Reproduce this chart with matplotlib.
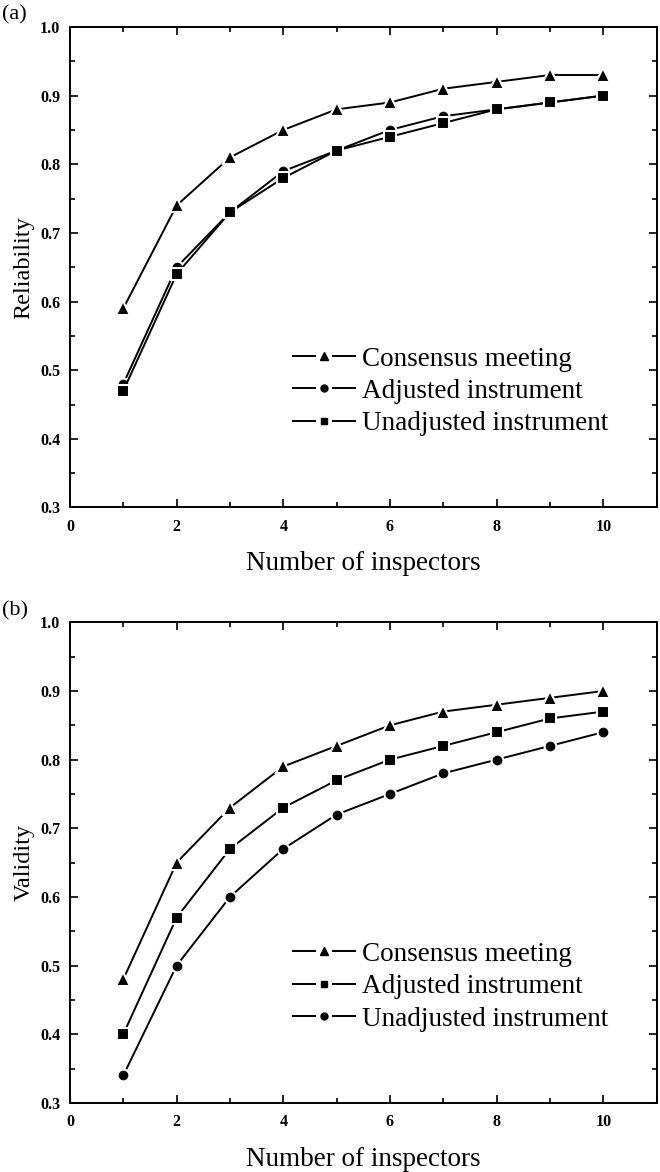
import numpy as np
import matplotlib.pyplot as plt
from matplotlib.ticker import MultipleLocator
from matplotlib.legend_handler import HandlerBase
from matplotlib.lines import Line2D

plt.rcParams['font.family'] = ['Liberation Serif', 'DejaVu Serif']

# === Daten ===
inspectors = [1, 2, 3, 4, 5, 6, 7, 8, 9, 10]

# (a) Reliability
rel_consensus = [0.59, 0.74, 0.81, 0.85, 0.88, 0.89, 0.91, 0.92, 0.93, 0.93]
rel_adjusted = [0.48, 0.65, 0.73, 0.79, 0.82, 0.85, 0.87, 0.88, 0.89, 0.90]
rel_unadjusted = [0.47, 0.64, 0.73, 0.78, 0.82, 0.84, 0.86, 0.88, 0.89, 0.90]

# (b) Validity
val_consensus = [0.48, 0.65, 0.73, 0.79, 0.82, 0.85, 0.87, 0.88, 0.89, 0.90]
val_adjusted = [0.40, 0.57, 0.67, 0.73, 0.77, 0.80, 0.82, 0.84, 0.86, 0.87]
val_unadjusted = [0.34, 0.50, 0.60, 0.67, 0.72, 0.75, 0.78, 0.80, 0.82, 0.84]

x_ticks = [0, 2, 4, 6, 8, 10]
y_ticks = [0.3, 0.4, 0.5, 0.6, 0.7, 0.8, 0.9, 1.0]

MARKER_SIZE = {"^": 10.5, "o": 8.5, "s": 8}


# Legend-Symbol im Origin-Stil: "—▲—" mit Lücken
class GapHandler(HandlerBase):
    def create_artists(self, legend, orig_handle, xdescent, ydescent,
                       width, height, fontsize, trans):
        y = height / 2 - ydescent
        x0 = -xdescent
        x1 = x0 + width
        mid = (x0 + x1) / 2
        gap = width * 0.14
        l1 = Line2D([x0, mid - gap], [y, y], color="black", linewidth=1.4)
        l2 = Line2D([mid + gap, x1], [y, y], color="black", linewidth=1.4)
        m = Line2D([mid], [y], marker=orig_handle.get_marker(), color="black",
                   markersize=6 if orig_handle.get_marker() == "^" else 5,
                   linestyle="none")
        for a in (l1, l2, m):
            a.set_transform(trans)
        return [l1, l2, m]


fig = plt.figure(figsize=(6.6, 11.72), dpi=100)
ax_a = fig.add_axes([0.106, 0.567, 0.889, 0.410])
ax_b = fig.add_axes([0.106, 0.059, 0.889, 0.410])


def draw_series(ax, y, marker, label):
    ax.plot(inspectors, y, marker=marker, label=label, color="black",
            linewidth=1.4, markersize=MARKER_SIZE[marker],
            markeredgecolor="white", markeredgewidth=1.5)


def setup_axis(ax, ylabel, tag):
    ax.set_xlim(0, 11)
    ax.set_ylim(0.3, 1.0)
    ax.set_xticks(x_ticks)
    ax.set_yticks(y_ticks)
    ax.set_yticklabels([f"{v:.1f}" for v in y_ticks])
    ax.xaxis.set_minor_locator(MultipleLocator(1))
    ax.yaxis.set_minor_locator(MultipleLocator(0.05))
    ax.tick_params(which="both", direction="in", top=True, right=True,
                   labelsize=11.5, width=1.2)
    ax.tick_params(axis="x", which="major", pad=8)
    ax.tick_params(axis="y", which="major", pad=7)
    ax.tick_params(which="major", length=6)
    ax.tick_params(which="minor", length=3.5)
    for lab in ax.get_xticklabels() + ax.get_yticklabels():
        lab.set_fontweight("bold")
    for s in ax.spines.values():
        s.set_linewidth(1.4)
    ax.set_xlabel("Number of inspectors", fontsize=19.5, labelpad=12)
    ax.set_ylabel(ylabel, fontsize=17.5, labelpad=4)
    ax.legend(loc="upper left", bbox_to_anchor=(0.38, 0.335),
              borderaxespad=0, borderpad=0, frameon=False,
              fontsize=19.5, handlelength=2.3, handletextpad=0.25,
              labelspacing=0.27, handler_map={Line2D: GapHandler()})


# (a)
draw_series(ax_a, rel_consensus, "^", "Consensus meeting")
draw_series(ax_a, rel_adjusted, "o", "Adjusted instrument")
draw_series(ax_a, rel_unadjusted, "s", "Unadjusted instrument")
setup_axis(ax_a, "Reliability", "(a)")

# (b)
draw_series(ax_b, val_consensus, "^", "Consensus meeting")
draw_series(ax_b, val_adjusted, "s", "Adjusted instrument")
draw_series(ax_b, val_unadjusted, "o", "Unadjusted instrument")
setup_axis(ax_b, "Validity", "(b)")

fig.text(0.003, 1 - 15 / 1172, "(a)", fontsize=16, ha="left", va="center")
fig.text(0.003, 1 - 611 / 1172, "(b)", fontsize=16, ha="left", va="center")

plt.savefig("out.png", dpi=100)
print("Saved out.png")
